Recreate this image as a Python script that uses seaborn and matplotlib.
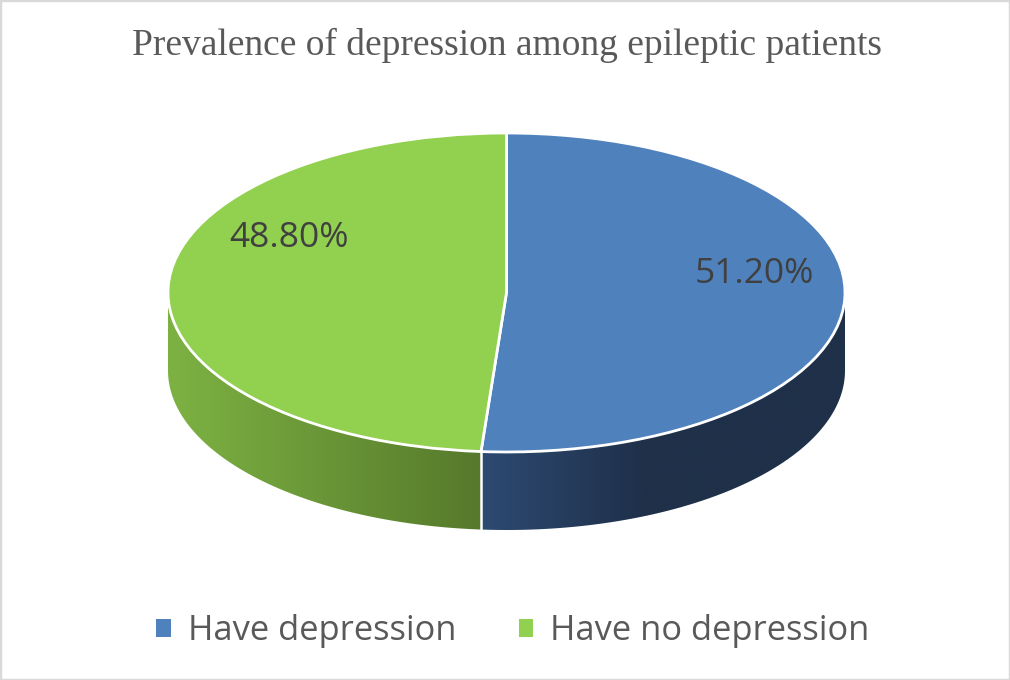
import numpy as np
import matplotlib
matplotlib.use("Agg")
import matplotlib.pyplot as plt
import matplotlib.transforms as mtransforms
from matplotlib.patches import Polygon, Patch, Rectangle
from matplotlib.colors import LinearSegmentedColormap
import seaborn as sns

# ---- data ----
categories = ["Have depression", "Have no depression"]
values = [51.20, 48.80]
value_labels = ["51.20%", "48.80%"]
title = "Prevalence of depression among epileptic patients"

top_colors = ["#4f81bd", "#92d050"]
side_colors = [("#2d4a72", "#1f3049"), ("#7db243", "#56792b")]

sns.set_theme(style="white")
palette = sns.color_palette(top_colors)

W, H = 1010, 680
fig = plt.figure(figsize=(W / 100, H / 100), dpi=100)
ax = fig.add_axes([0, 0, 1, 1])
ax.set_xlim(0, W)
ax.set_ylim(0, H)
ax.axis("off")

# geometry (pixel layout, y up)
cx, cy = 506.5, H - 292.5
a, b = 338.5, 159.5
depth = 78

fr = np.array(values) / np.sum(values)
bounds = np.concatenate([[0], np.cumsum(fr)]) * 2 * np.pi  # clockwise from top

# ---- side faces (front half only: t in [pi/2, 3pi/2]) ----
for i in range(len(values)):
    t0 = max(bounds[i], np.pi / 2)
    t1 = min(bounds[i + 1], 3 * np.pi / 2)
    if t1 <= t0:
        continue
    t = np.linspace(t0, t1, 200)
    xs = cx + a * np.sin(t)
    ys = cy + b * np.cos(t)
    pts = np.vstack([np.column_stack([xs, ys]),
                     np.column_stack([xs[::-1], ys[::-1] - depth])])
    poly = Polygon(pts, closed=True, facecolor="none", edgecolor="none", zorder=1)
    ax.add_patch(poly)
    x0, x1 = xs.min(), xs.max()
    cmap = LinearSegmentedColormap.from_list("g", list(side_colors[i]))
    grad = np.linspace(0, 1, 256).reshape(1, -1)
    if i == 0:
        g = np.clip(grad / 0.45, 0, 1)
    else:
        g = grad
    im = ax.imshow(g, cmap=cmap, extent=(x0, x1, ys.min() - depth - 2, ys.max() + 2),
                   aspect="auto", zorder=1, interpolation="bilinear", vmin=0, vmax=1)
    im.set_clip_path(poly)

# white boundary lines on the sides
for bd in bounds:
    if np.pi / 2 < bd < 3 * np.pi / 2:
        xb = cx + a * np.sin(bd)
        yb = cy + b * np.cos(bd)
        ax.plot([xb, xb], [yb, yb - depth], color="white", lw=1.8, zorder=2)

# ---- top face via pie, squashed into an ellipse ----
squash = mtransforms.Affine2D().translate(-cx, -cy).scale(1, b / a).translate(cx, cy)
wedges, _ = ax.pie(values, colors=palette, startangle=90, counterclock=False,
                   radius=a, center=(cx, cy), frame=True,
                   wedgeprops=dict(edgecolor="white", linewidth=2))
for w in wedges:
    w.set_transform(squash + ax.transData)
    w.set_zorder(3)
ax.set_xlim(0, W)
ax.set_ylim(0, H)
ax.set_aspect("auto")
ax.axis("off")

# value labels
label_pos = [(754, H - 274), (288.5, H - 238)]
for (lx, ly), txt in zip(label_pos, value_labels):
    ax.text(lx, ly, txt, ha="center", va="center", fontsize=25.5,
            family="Open Sans", color="#404040", zorder=5)

# title
fig.text(506.5 / W, 1 - 45 / H, title, ha="center", va="center",
         fontsize=27, family="Liberation Serif", color="#595959")

# legend
handles = [Patch(facecolor=c, edgecolor="none") for c in palette]
leg = fig.legend(handles, categories, loc="center", ncol=2,
                 bbox_to_anchor=(513 / W, 1 - 631 / H), frameon=False,
                 prop=dict(family="Open Sans", size=24.8),
                 handlelength=0.42, handleheight=0.42, handletextpad=0.5,
                 columnspacing=1.8, labelcolor="#595959")

# chart frame
fig.patches.append(Rectangle((0, 0), 1, 1, transform=fig.transFigure,
                             fill=False, edgecolor="#d9d9d9", lw=2.5))

fig.savefig("out.png", dpi=100, facecolor="white")
